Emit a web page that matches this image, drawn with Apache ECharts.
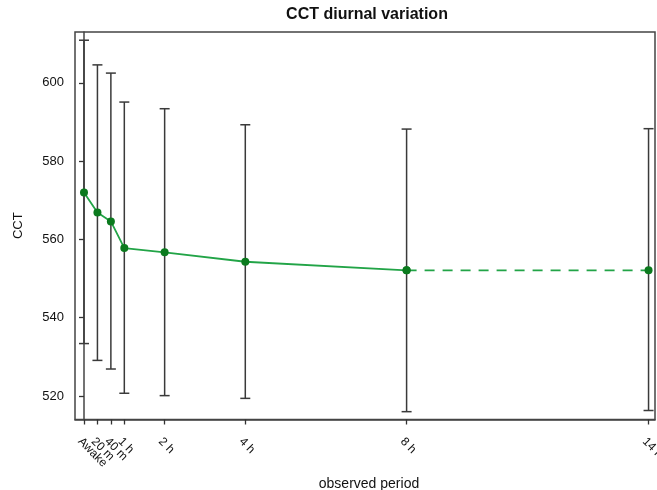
<!DOCTYPE html>
<html>
<head>
<meta charset="utf-8">
<script src="https://cdn.jsdelivr.net/npm/echarts@6/dist/echarts.min.js"></script>
<style>
  html, body { margin: 0; padding: 0; background: #fff; }
  #chart { width: 657px; height: 490px; }
</style>
</head>
<body>
<div id="chart"></div>
<script>
// Observation times in hours after waking
const times = [0, 1 / 3, 2 / 3, 1, 2, 4, 8, 14];
const timeLabels = ['Awake', '20 m', '40 m', '1 h', '2 h', '4 h', '8 h', '14 h'];
// Mean CCT and the upper / lower ends of each error bar
const meanCCT = [572.0, 566.9, 564.6, 557.8, 556.7, 554.3, 552.1, 552.1];
const upperCCT = [610.9, 604.6, 602.5, 595.1, 593.4, 589.3, 588.2, 588.3];
const lowerCCT = [533.4, 529.1, 526.9, 520.7, 520.1, 519.4, 516.0, 516.3];
const yTicks = [520, 540, 560, 580, 600];

const FONT = '"Liberation Sans", Arial, sans-serif';
const lineGreen = '#22a447';
const dotGreen = '#0b7a1e';
const barColor = '#3a3a3a';
const X_MIN = -0.223, X_MAX = 14.16;

const chart = echarts.init(document.getElementById('chart'), null, { renderer: 'canvas' });

const solidIdx = times.map((t, i) => i).filter(i => times[i] <= 8);
const dashIdx = times.map((t, i) => i).filter(i => times[i] >= 8);

function timeLabel(v) {
  const i = times.findIndex(t => Math.abs(t - v) < 1e-6);
  return i >= 0 ? timeLabels[i] : '';
}

// The closely spaced labels are split over two overlaid bottom axes so that
// none of them is dropped by overlap handling.
const labelsA = times.filter((t, i) => i !== 1);
const labelsB = [times[1]];

const labelStyle = {
  rotate: -45,
  margin: 16,
  interval: 0,
  hideOverlap: false,
  showMinLabel: true,
  showMaxLabel: true,
  verticalAlign: 'top',
  fontFamily: FONT, fontSize: 12, color: '#111',
  formatter: timeLabel
};

chart.setOption({
  animation: false,
  backgroundColor: '#fff',
  graphic: [{
    type: 'text',
    x: 367, y: 15,
    style: {
      text: 'CCT diurnal variation',
      textAlign: 'center', textVerticalAlign: 'middle',
      font: 'bold 16px ' + FONT,
      fill: '#111'
    }
  }],
  grid: {
    left: 75, right: 2, top: 32, bottom: 70.5,
    show: true, borderColor: '#444', borderWidth: 1.5,
    containLabel: false,
    outerBoundsMode: 'none'
  },
  xAxis: [
    {
      type: 'value',
      position: 'bottom', offset: 0,
      min: X_MIN, max: X_MAX,
      name: 'observed period',
      nameLocation: 'middle',
      nameGap: 58,
      nameTextStyle: { fontFamily: FONT, fontSize: 14, color: '#111', padding: [0, 0, 0, 8] },
      axisLine: { show: true, onZero: false, lineStyle: { color: '#444', width: 1.5 } },
      axisTick: { show: true, length: 5, customValues: times, lineStyle: { color: '#333', width: 1.3 } },
      axisLabel: Object.assign({ customValues: labelsA }, labelStyle),
      splitLine: { show: false }
    },
    {
      type: 'value',
      position: 'bottom', offset: 0,
      min: X_MIN, max: X_MAX,
      axisLine: { show: false, onZero: false },
      axisTick: { show: false },
      axisLabel: Object.assign({ customValues: labelsB }, labelStyle),
      splitLine: { show: false }
    }
  ],
  yAxis: {
    type: 'value',
    min: 514, max: 613,
    name: 'CCT',
    nameLocation: 'middle',
    nameRotate: 90,
    nameGap: 50,
    nameTextStyle: { fontFamily: FONT, fontSize: 13, color: '#111' },
    axisLine: { show: true, lineStyle: { color: '#444', width: 1.5 } },
    axisTick: { show: true, length: 5, customValues: yTicks, lineStyle: { color: '#333', width: 1.3 } },
    axisLabel: { customValues: yTicks, margin: 11, fontFamily: FONT, fontSize: 13, color: '#111' },
    splitLine: { show: false }
  },
  series: [
    {
      // vertical error bars with caps
      type: 'custom',
      data: times.map((t, i) => [t, lowerCCT[i], upperCCT[i]]),
      encode: { x: 0, y: [1, 2] },
      z: 1,
      renderItem: function (params, api) {
        const x = api.value(0);
        const lo = api.coord([x, api.value(1)]);
        const hi = api.coord([x, api.value(2)]);
        const cap = 5;
        const style = { stroke: barColor, lineWidth: 1.5 };
        return {
          type: 'group',
          children: [
            { type: 'line', shape: { x1: lo[0], y1: lo[1], x2: hi[0], y2: hi[1] }, style: style },
            { type: 'line', shape: { x1: hi[0] - cap, y1: hi[1], x2: hi[0] + cap, y2: hi[1] }, style: style },
            { type: 'line', shape: { x1: lo[0] - cap, y1: lo[1], x2: lo[0] + cap, y2: lo[1] }, style: style }
          ]
        };
      }
    },
    {
      type: 'line',
      data: solidIdx.map(i => [times[i], meanCCT[i]]),
      z: 3,
      symbol: 'circle', symbolSize: 8,
      lineStyle: { color: lineGreen, width: 1.8 },
      itemStyle: { color: dotGreen }
    },
    {
      type: 'line',
      data: dashIdx.map(i => [times[i], meanCCT[i]]),
      z: 3,
      symbol: 'circle', symbolSize: 8,
      lineStyle: { color: lineGreen, width: 1.8, type: [10, 8] },
      itemStyle: { color: dotGreen }
    }
  ]
});
</script>
</body>
</html>
